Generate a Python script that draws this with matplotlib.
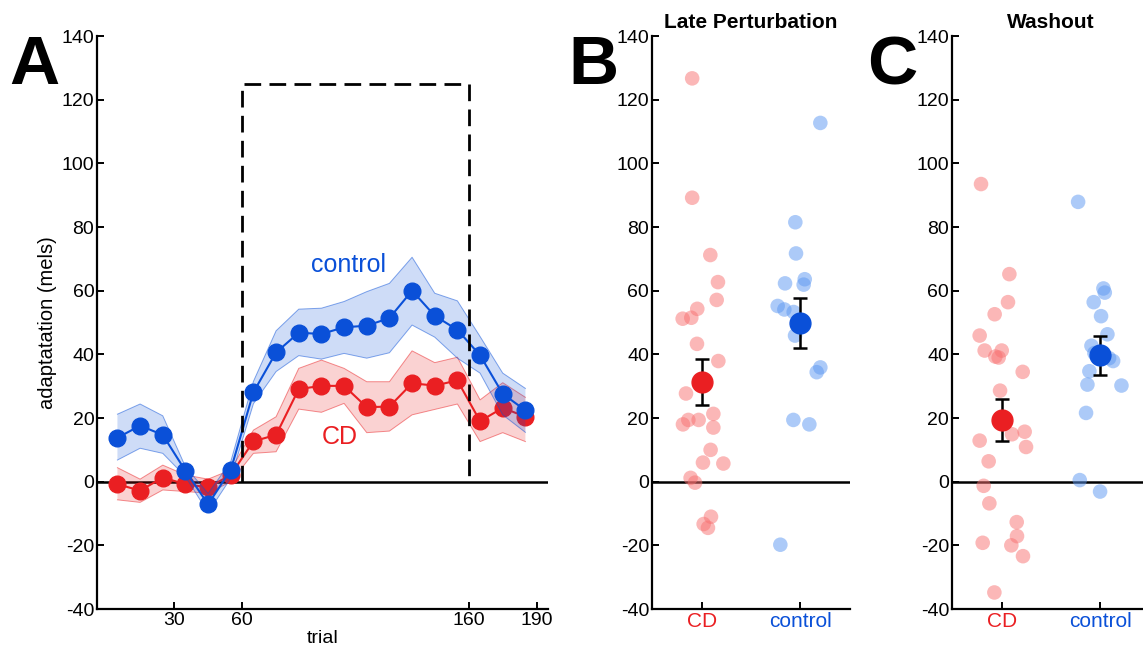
import matplotlib
matplotlib.use('Agg')
import matplotlib.pyplot as plt
import numpy as np

plt.rcParams['font.family'] = ['Liberation Sans', 'DejaVu Sans']
plt.rcParams['axes.unicode_minus'] = False

BLUE = '#0a50d8'
RED = '#ea1f22'
LIGHT_BLUE = '#5b97f2'
LIGHT_RED = '#f87070'

# panel A: time course
trial = [5, 15, 25, 35, 45, 55, 65, 75, 85, 95, 105, 115, 125, 135, 145, 155, 165, 175, 185]
ctrl_mean = [13.8, 17.6, 14.7, 3.4, -7.1, 3.7, 28.1, 40.6, 46.8, 46.4, 48.5, 49.0, 51.4, 60.0, 52.1, 47.7, 39.7, 27.6, 22.4]
ctrl_hi = [21.2, 24.4, 20.7, 4.7, -3.7, 6.3, 31.5, 47.4, 54.2, 54.5, 56.6, 59.7, 62.3, 70.5, 59.2, 56.8, 45.6, 34.1, 29.3]
ctrl_lo = [6.8, 10.5, 8.9, 1.6, -9.7, 1.1, 24.5, 34.6, 39.6, 38.5, 40.3, 38.8, 40.5, 49.2, 45.4, 38.8, 34.1, 21.0, 15.5]
cd_mean = [-0.8, -2.8, 1.3, -0.8, -1.8, 2.1, 12.7, 14.7, 29.1, 30.1, 30.1, 23.4, 23.6, 30.9, 30.2, 31.8, 19.0, 23.2, 20.4]
cd_hi = [4.4, 0.8, 5.2, 2.1, 0.8, 3.7, 16.2, 20.4, 35.6, 38.2, 35.6, 31.4, 31.4, 41.1, 37.4, 39.1, 25.7, 31.1, 26.5]
cd_lo = [-5.7, -6.5, -2.6, -3.1, -3.6, 0.0, 8.9, 9.4, 22.8, 21.8, 24.6, 15.4, 15.9, 21.0, 22.7, 24.4, 12.6, 15.4, 12.6]
window = [60, 160, 125]   # start trial, end trial, box height

# panel B: late perturbation, individual subjects
late_cd = [126.7, 89.2, 71.2, 62.7, 57.1, 54.3, 51.2, 51.5, 43.3, 37.9, 27.7, 19.4,
           18.0, 19.4, 21.3, 17.0, 10.0, 6.0, 5.7, 1.2, -0.3, -11.0, -13.3, -14.5]
late_cd_jit = [-0.10, -0.10, 0.085, 0.163, 0.15, -0.048, -0.197, -0.109, -0.051, 0.167, -0.163, -0.139,
               -0.194, -0.034, 0.116, 0.116, 0.088, 0.01, 0.218, -0.116, -0.071, 0.092, 0.017, 0.061]
late_ctrl = [112.7, 81.5, 71.7, 62.3, 63.6, 61.9, 55.2, 54.1, 53.3, 45.9, 35.9, 34.4, 19.4, 18.0, -19.8]
late_ctrl_jit = [0.207, -0.048, -0.041, -0.153, 0.048, 0.037, -0.228, -0.16, -0.065, -0.051, 0.207, 0.17,
                 -0.068, 0.095, -0.201]
late_means = [31.3, 49.9]
late_err = [7.1, 7.9]

# panel C: washout
wash_cd = [93.5, 65.2, 56.4, 52.6, 45.9, 41.2, 41.2, 39.3, 39.0, 34.5, 28.6, 12.9,
           14.9, 15.7, 10.9, 6.4, -1.3, -6.8, -12.7, -17.1, -19.2, -20.0, -23.4, -34.8]
wash_cd_jit = [-0.214, 0.075, 0.061, -0.075, -0.228, -0.177, -0.003, -0.068, -0.034, 0.211, -0.02, -0.228,
               0.102, 0.231, 0.245, -0.136, -0.187, -0.129, 0.15, 0.153, -0.197, 0.095, 0.214, -0.078]
wash_ctrl = [87.9, 60.7, 59.4, 56.4, 52.0, 46.3, 42.7, 40.4, 38.8, 37.9, 34.7, 30.5, 30.2, 21.6, 0.5, -3.1]
wash_ctrl_jit = [-0.224, 0.034, 0.048, -0.065, 0.01, 0.075, -0.088, -0.058, 0.092, 0.133, -0.109, -0.129,
                 0.218, -0.143, -0.207, 0.0]
wash_means = [19.3, 39.7]
wash_err = [6.6, 6.1]

groups = ['CD', 'control']
yticks = list(range(-40, 141, 20))

fig = plt.figure(figsize=(11.43, 6.55), dpi=100)
axA = fig.add_axes([0.0849, 0.0702, 0.3946, 0.8748])
axB = fig.add_axes([0.5704, 0.0702, 0.1733, 0.8748])
axC = fig.add_axes([0.8329, 0.0702, 0.1733, 0.8748])


def style_axis(ax):
    for s in ['top', 'right']:
        ax.spines[s].set_visible(False)
    for s in ['left', 'bottom']:
        ax.spines[s].set_linewidth(1.6)
    ax.tick_params(direction='in', length=5, width=1.4, labelsize=14, pad=2)
    ax.set_ylim(-40, 140)
    ax.set_yticks(yticks)
    ax.axhline(0, color='black', lw=1.8, zorder=1)


# ---- A ----
style_axis(axA)
axA.fill_between(trial, cd_lo, cd_hi, facecolor=RED, alpha=0.2, edgecolor='none', zorder=2)
axA.plot(trial, cd_hi, color=RED, lw=0.7, alpha=0.5, zorder=2)
axA.plot(trial, cd_lo, color=RED, lw=0.7, alpha=0.5, zorder=2)
axA.plot(trial, cd_mean, '-o', color=RED, lw=1.5, ms=12, zorder=3)
axA.fill_between(trial, ctrl_lo, ctrl_hi, facecolor=BLUE, alpha=0.2, edgecolor='none', zorder=4)
axA.plot(trial, ctrl_hi, color=BLUE, lw=0.7, alpha=0.5, zorder=4)
axA.plot(trial, ctrl_lo, color=BLUE, lw=0.7, alpha=0.5, zorder=4)
axA.plot(trial, ctrl_mean, '-o', color=BLUE, lw=1.5, ms=12, zorder=5)

x0, x1, h = window
axA.plot([x0, x0, x1, x1], [0, h, h, 0], color='black', lw=2, linestyle=(0, (6, 3)), zorder=6)

axA.set_xlim(-4, 195)
axA.set_xticks([30, 60, 160, 190])
axA.set_xlabel('trial', fontsize=14, labelpad=1)
axA.set_ylabel('adaptatation (mels)', fontsize=14.5, labelpad=3)
axA.text(107, 68, 'control', color=BLUE, fontsize=18, ha='center', va='center')
axA.text(103, 14, 'CD', color=RED, fontsize=18, ha='center', va='center')


# ---- B and C ----
def scatter_panel(ax, cd, cd_jit, ctrl, ctrl_jit, means, err, title):
    style_axis(ax)
    ax.scatter(1 + np.array(cd_jit), cd, s=110, color=LIGHT_RED, alpha=0.5, edgecolors='none', zorder=2)
    ax.scatter(2 + np.array(ctrl_jit), ctrl, s=110, color=LIGHT_BLUE, alpha=0.5, edgecolors='none', zorder=2)
    for i, c in enumerate([RED, BLUE]):
        ax.errorbar(i + 1, means[i], yerr=err[i], fmt='none', ecolor='black',
                    elinewidth=1.8, capsize=5, capthick=1.8, zorder=3)
        ax.plot(i + 1, means[i], 'o', color=c, ms=15, zorder=4)
    ax.set_xlim(0.49, 2.51)
    ax.set_xticks([1, 2])
    ax.set_xticklabels(groups, fontsize=15)
    ax.get_xticklabels()[0].set_color(RED)
    ax.get_xticklabels()[1].set_color(BLUE)
    ax.set_title(title, fontsize=15, fontweight='bold', pad=6)


scatter_panel(axB, late_cd, late_cd_jit, late_ctrl, late_ctrl_jit, late_means, late_err, 'Late Perturbation')
scatter_panel(axC, wash_cd, wash_cd_jit, wash_ctrl, wash_ctrl_jit, wash_means, wash_err, 'Washout')

# panel letters
for lab, xf in [('A', 0.008), ('B', 0.497), ('C', 0.759)]:
    fig.text(xf, 0.948, lab, fontsize=50, fontweight='bold', va='top', ha='left')

fig.savefig('out.png', dpi=100)
